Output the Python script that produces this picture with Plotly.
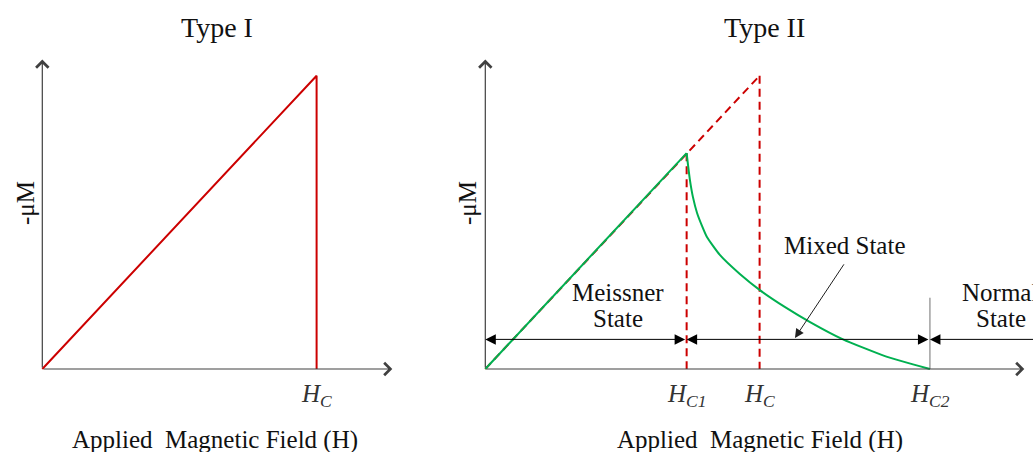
import plotly.graph_objects as go

W, H = 1033, 452
FONT = "Liberation Serif"
RED = "#CC0000"
GREEN = "#00B050"
AXIS = "#404040"
INK = "#111111"

# Fields are in units of H_C, magnetisation (-μM) in units of its value at H_C
hc = 1.0
hc1 = 0.734
hc2 = 1.621

type1_field = [0.0, hc, hc]
type1_mag = [0.0, 1.0, 0.0]

ideal_field = [0.0, hc]
ideal_mag = [0.0, 1.0]

meissner_field = [0.0, hc1]
meissner_mag = [0.0, 0.736]

mixed_field = [0.734, 0.739, 0.746, 0.757, 0.772, 0.790, 0.808, 0.855,
               0.928, 1.001, 1.093, 1.184, 1.304, 1.457, 1.621]
mixed_mag = [0.736, 0.696, 0.644, 0.586, 0.532, 0.488, 0.450, 0.389,
             0.324, 0.269, 0.211, 0.160, 0.101, 0.044, 0.0]

region_level = 0.101      # height of the state-range arrows
hc2_marker_top = 0.243
x_axis_end = [1.276, 1.965]
y_axis_end = 1.055

# pixel geometry of the two panels
ORIGIN_X = [42.3, 485.3]
ORIGIN_Y = 369.0
PX_PER_H = 274.3
PX_PER_M = 293.3
SPLIT = 0.43


def x_range(i, d0, d1):
    return [(d0 * W - ORIGIN_X[i]) / PX_PER_H, (d1 * W - ORIGIN_X[i]) / PX_PER_H]


y_range = [(ORIGIN_Y - H) / PX_PER_M, ORIGIN_Y / PX_PER_M]

fig = go.Figure()

# Type I
fig.add_trace(go.Scatter(x=type1_field, y=type1_mag, mode="lines",
                         line=dict(color=RED, width=2), xaxis="x", yaxis="y"))

# Type II: ideal diamagnet extension and critical-field markers
dash = dict(color=RED, width=2, dash="8px,5px")
fig.add_trace(go.Scatter(x=ideal_field, y=ideal_mag, mode="lines",
                         line=dash, xaxis="x2", yaxis="y2"))
fig.add_trace(go.Scatter(x=[hc1, hc1], y=[meissner_mag[-1], 0], mode="lines",
                         line=dash, xaxis="x2", yaxis="y2"))
fig.add_trace(go.Scatter(x=[hc, hc], y=[ideal_mag[-1], 0], mode="lines",
                         line=dash, xaxis="x2", yaxis="y2"))
fig.add_trace(go.Scatter(x=[hc2, hc2], y=[0, hc2_marker_top], mode="lines",
                         line=dict(color="#707070", width=1), xaxis="x2", yaxis="y2"))

# Type II measured response
fig.add_trace(go.Scatter(x=meissner_field, y=meissner_mag, mode="lines",
                         line=dict(color=GREEN, width=2), xaxis="x2", yaxis="y2"))
fig.add_trace(go.Scatter(x=mixed_field, y=mixed_mag, mode="lines",
                         line=dict(color=GREEN, width=2, shape="spline", smoothing=0.5),
                         xaxis="x2", yaxis="y2"))

ann = []


def axis_arrow(xr, yr, x, y):
    ann.append(dict(x=x, y=y, ax=0, ay=0, xref=xr, yref=yr, axref=xr, ayref=yr,
                    text="", showarrow=True, arrowhead=4, arrowsize=2, arrowwidth=1.2,
                    arrowcolor=AXIS))


for i, (xr, yr) in enumerate([("x", "y"), ("x2", "y2")]):
    axis_arrow(xr, yr, x_axis_end[i], 0)
    axis_arrow(xr, yr, 0, y_axis_end)


def span_arrow(x0, x1, both=True):
    ann.append(dict(x=x0, y=region_level, ax=x1, ay=region_level, xref="x2", yref="y2",
                    axref="x2", ayref="y2", text="", showarrow=True,
                    arrowside="end+start" if both else "end",
                    arrowhead=2, arrowsize=2.1, startarrowhead=2, startarrowsize=2.1,
                    arrowwidth=1, arrowcolor="#000000"))


span_arrow(0.0, hc1)
span_arrow(hc1, hc2)
span_arrow(hc2, 2.2, both=False)

# pointer from the mixed-state label to its range
ann.append(dict(x=1.129, y=0.106, ax=1.311, ay=0.362, xref="x2", yref="y2",
                axref="x2", ayref="y2", text="", showarrow=True, arrowhead=2,
                arrowsize=1.8, arrowwidth=1, arrowcolor="#202020"))


def px_text(text, x, y, size=25, angle=0):
    ann.append(dict(text=text, x=x / W, y=1 - y / H, xref="paper", yref="paper",
                    showarrow=False, textangle=angle, xanchor="center", yanchor="middle",
                    font=dict(family=FONT, size=size, color=INK)))


def field_label(text, xr, x):
    ann.append(dict(text=text, x=x, y=1 - 395 / H, xref=xr, yref="paper",
                    showarrow=False, xanchor="center", yanchor="middle",
                    font=dict(family=FONT, size=25, color="#333333", style="italic")))


px_text("Type I", 217, 28, size=28)
px_text("Type II", 764, 28, size=28)
px_text("-μM", 25, 203, angle=-90)
px_text("-μM", 467, 203, angle=-90)
px_text("Applied  Magnetic Field (H)", 215, 440)
px_text("Applied  Magnetic Field (H)", 760, 440)
px_text("Meissner", 618, 292)
px_text("State", 618, 318)
px_text("Mixed State", 845, 245)
px_text("Normal", 1000, 292)
px_text("State", 1001, 318)

field_label("H<sub>C</sub>", "x", hc)
field_label("H<sub>C1</sub>", "x2", hc1)
field_label("H<sub>C</sub>", "x2", hc)
field_label("H<sub>C2</sub>", "x2", hc2)

hidden = dict(visible=False, fixedrange=True)
fig.update_layout(
    width=W, height=H, margin=dict(l=0, r=0, t=0, b=0),
    paper_bgcolor="white", plot_bgcolor="white", showlegend=False,
    xaxis=dict(domain=[0, SPLIT], range=x_range(0, 0, SPLIT), **hidden),
    xaxis2=dict(domain=[SPLIT, 1], range=x_range(1, SPLIT, 1), **hidden),
    yaxis=dict(domain=[0, 1], range=y_range, **hidden),
    yaxis2=dict(domain=[0, 1], range=y_range, anchor="x2", **hidden),
    annotations=ann,
)

fig.write_html("out.html")
